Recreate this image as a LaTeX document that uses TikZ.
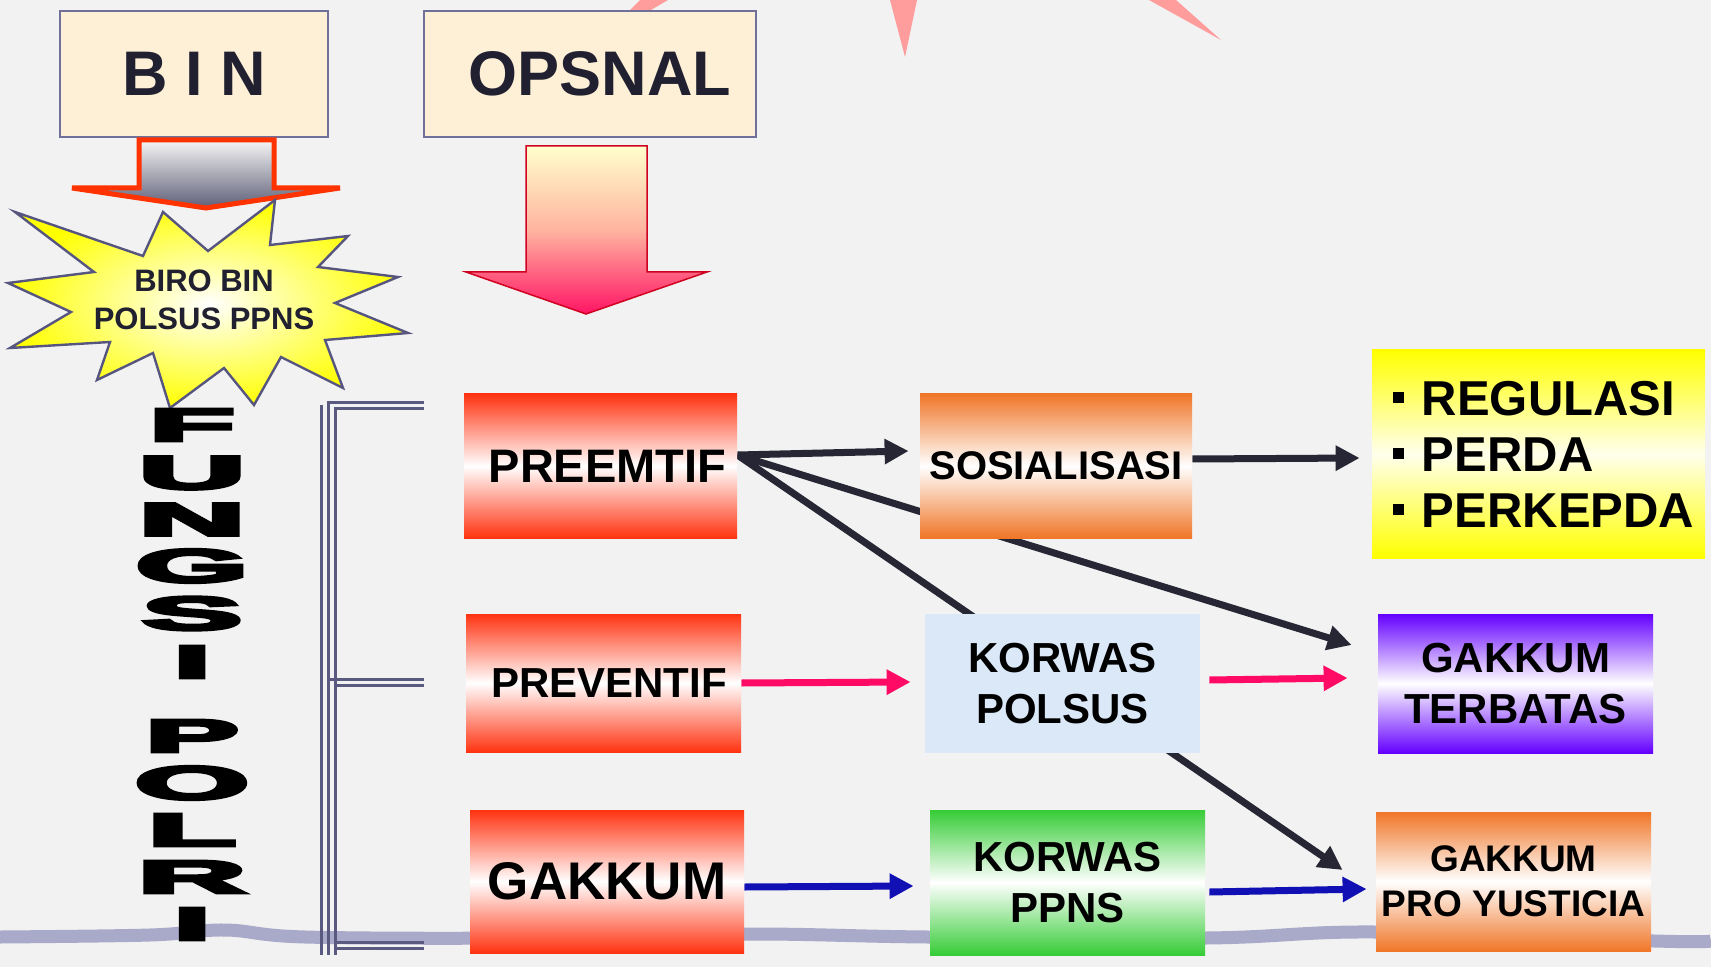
\documentclass[tikz,border=0pt]{standalone}
\usepackage{fontspec}
\setmainfont{Liberation Sans}
\newfontfamily\heavyfont[FakeBold=6]{Liberation Sans}
\usetikzlibrary{arrows.meta,calc}
\pgfdeclarelayer{bglayer}
\pgfdeclarelayer{midlayer}
\pgfsetlayers{bglayer,midlayer,main}
\definecolor{bgc}{HTML}{F2F2F2}
\definecolor{cream}{HTML}{FDF0D6}
\definecolor{boxline}{HTML}{70709A}
\definecolor{txt}{HTML}{202030}
\definecolor{redg}{HTML}{FF3311}
\definecolor{orng}{HTML}{F07628}
\definecolor{purp}{HTML}{6400FF}
\definecolor{grn}{HTML}{36CC36}
\definecolor{ylw}{HTML}{FFFF00}
\definecolor{ylwlight}{HTML}{FFFFEC}
\definecolor{lblue}{HTML}{DAE8F8}
\definecolor{darkar}{HTML}{262634}
\definecolor{pinkar}{HTML}{FF0A64}
\definecolor{bluear}{HTML}{1010B4}
\definecolor{spike}{HTML}{FF9C9C}
\definecolor{bandc}{HTML}{A9A9C9}
\definecolor{brk}{HTML}{5A5A80}
\definecolor{starline}{HTML}{555580}
\definecolor{binred}{HTML}{FF3300}
\definecolor{binlight}{HTML}{F6F6F6}
\definecolor{bindark}{HTML}{5E5E78}
\definecolor{opsred}{HTML}{D00020}
\definecolor{opstop}{HTML}{FFFFCC}
\definecolor{opsmid}{HTML}{FFB4A0}
\definecolor{opsbot}{HTML}{FF1464}
\newcommand\regbullet{\rule[0.24em]{0.24em}{0.24em}\hspace{0.36em}}
\begin{document}
\begin{tikzpicture}[x=0.5pt,y=-0.5pt,
  topbox/.style={draw=boxline, line width=1pt, fill=cream, inner sep=0pt,
    minimum height=63pt, text=txt, font=\fontsize{31.5}{36}\selectfont\bfseries},
  gbox/.style={rectangle, inner sep=0pt, align=center, text=black},
  redbox/.style={gbox, top color=redg, bottom color=redg, middle color=white},
  orbox/.style={gbox, top color=orng, bottom color=orng, middle color=white},
  purbox/.style={gbox, top color=purp, bottom color=purp, middle color=white},
  grbox/.style={gbox, top color=grn, bottom color=grn, middle color=white},
  conn/.style={line width=3.5pt, -{Triangle[length=12pt,width=12pt]}},
  brkline/.style={draw=brk, line width=1.5pt}
]
\useasboundingbox (0,0) rectangle (1711,967);
\begin{pgfonlayer}{bglayer}
  \fill[bgc] (0,0) rectangle (1711,967);
  \fill[spike] (640,0) -- (668,0) -- (600,40) -- cycle;
  \fill[spike] (890,0) -- (917,0) -- (905,57) -- cycle;
  \fill[spike] (1149,0) -- (1176,0) -- (1221,40) -- cycle;
  \draw[bandc, line width=6.5pt] plot[smooth, tension=0.6] coordinates
    {(0,937) (150,935) (225,930) (305,937) (520,938) (746,934) (928,937) (1206,938) (1375,932) (1654,941) (1711,941)};
\end{pgfonlayer}

% top boxes
\node[topbox, minimum width=134pt] (bin) at (194,74) {B I N};
\node[topbox, minimum width=166pt] (ops) at (590,74) {\hspace*{10pt}OPSNAL};

% BIN arrow
\path[draw=binred, line width=2.5pt, top color=binlight, bottom color=bindark]
  (139,140) -- (274,140) -- (274,188) -- (340,188) -- (206,208) -- (72,188) -- (139,188) -- cycle;
% OPSNAL arrow
\path[draw=opsred, line width=0.75pt, top color=opstop, bottom color=opsbot, middle color=opsmid]
  (526,146) -- (647,146) -- (647,272) -- (707,272) -- (586,314) -- (466,272) -- (526,272) -- cycle;

% star
\path[draw=starline, line width=1.2pt, inner color=white, outer color=ylw]
  (15,212) -- (143,256) -- (163,212) -- (208,251) -- (275,200) -- (270,245) -- (348,236) -- (318,267)
  -- (398,277) -- (335,303) -- (408,333) -- (325,340) -- (343,388) -- (281,357) -- (254,405)
  -- (224,368) -- (170,408) -- (153,353) -- (97,380) -- (110,342) -- (10,348) -- (71,312)
  -- (8,283) -- (94,272) -- cycle;
\node[align=center, inner sep=0pt, text=txt, font=\fontsize{15.5}{19}\selectfont\bfseries] (biro) at (204,300) {BIRO BIN\\POLSUS PPNS};

% FUNGSI POLRI
\foreach \ch/\yy/\ww/\hh [count=\i] in {F/425/42.5/16, U/473/53/16.2, N/519.5/53/16, G/566/56/16.5, S/613.5/50/16.5, I/662/18/16, P/736/46.5/16, O/783/57/16.5, L/830/44/16, R/877/54/16, I/924/18/16}
  \node[inner sep=0pt] (f\i) at (192,\yy) {\resizebox{\ww pt}{\hh pt}{\heavyfont\bfseries \ch}};

% bracket
\draw[brkline] (321,405) -- (321,955);
\draw[brkline] (424,403) -- (328,403) -- (328,955);
\draw[brkline] (424,409) -- (335,409) -- (335,955);
\draw[brkline] (329,679) -- (424,679) (335,685) -- (424,685);
\draw[brkline] (335,942) -- (424,942) (335,948) -- (424,948);

% boxes
\node[redbox, minimum width=136.5pt, minimum height=72pt, font=\fontsize{23.5}{27}\selectfont\bfseries] (pre) at (600.5,466) {\hspace*{7pt}PREEMTIF};
\node[orbox, minimum width=136pt, minimum height=72pt, font=\fontsize{20}{24}\selectfont\bfseries] (sos) at (1056,466) {SOSIALISASI};
\node[gbox, top color=ylw, bottom color=ylw, middle color=ylwlight, text width=146pt, inner xsep=10.25pt, align=left,
  minimum height=104pt, font=\fontsize{24.5}{28}\selectfont\bfseries] (reg) at (1538.5,454)
  {\mbox{\regbullet REGULASI}\\\mbox{\regbullet PERDA}\\\mbox{\regbullet PERKEPDA}};
\node[redbox, minimum width=137.5pt, minimum height=69pt, font=\fontsize{21}{25}\selectfont\bfseries] (prev) at (603.5,683) {\hspace*{5.5pt}PREVENTIF};
\node[gbox, fill=lblue, minimum width=137.5pt, minimum height=69.5pt, font=\fontsize{21}{25.75}\selectfont\bfseries] (kp) at (1062.5,683.5) {KORWAS\\POLSUS};
\node[purbox, minimum width=137.5pt, minimum height=69.5pt, font=\fontsize{21}{25.75}\selectfont\bfseries] (ter) at (1515.5,683.5) {GAKKUM\\TERBATAS};
\node[redbox, minimum width=137pt, minimum height=71.5pt, font=\fontsize{26.5}{30}\selectfont\bfseries] (gak) at (607,881.5) {GAKKUM};
\node[grbox, minimum width=137.5pt, minimum height=72.5pt, font=\fontsize{21}{25.25}\selectfont\bfseries] (ppns) at (1067.5,882.5) {KORWAS\\PPNS};
\node[orbox, minimum width=137.5pt, minimum height=69.5pt, font=\fontsize{18.5}{22.25}\selectfont\bfseries] (pro) at (1513.5,881.5) {GAKKUM\\PRO YUSTICIA};

% connectors
\begin{pgfonlayer}{midlayer}
  \coordinate (pfan) at ([yshift=5.5pt]pre.east);
  \draw[conn, darkar] (pfan) -- ([xshift=-5.5pt,yshift=7.5pt]sos.west);
  \draw[conn, darkar] ([yshift=3.5pt]sos.east) -- ([xshift=-6pt,yshift=-2pt]reg.west);
  \draw[conn, darkar] (pfan) -- ([xshift=-13pt,yshift=19.25pt]ter.west);
  \draw[conn, darkar] (pfan) -- ([xshift=-16.5pt,yshift=5.75pt]pro.west);
  \draw[conn, pinkar] (prev.east) -- ([xshift=-7pt,yshift=0.75pt]kp.west);
  \draw[conn, pinkar] ([xshift=4.5pt,yshift=1.75pt]kp.east) -- ([xshift=-15pt,yshift=2.75pt]ter.west);
  \draw[conn, bluear] ([yshift=-2.75pt]gak.east) -- ([xshift=-8pt,yshift=-1.75pt]ppns.west);
  \draw[conn, bluear] ([xshift=2pt,yshift=-4.75pt]ppns.east) -- ([xshift=-4.5pt,yshift=-3.75pt]pro.west);
\end{pgfonlayer}
\end{tikzpicture}
\end{document}
